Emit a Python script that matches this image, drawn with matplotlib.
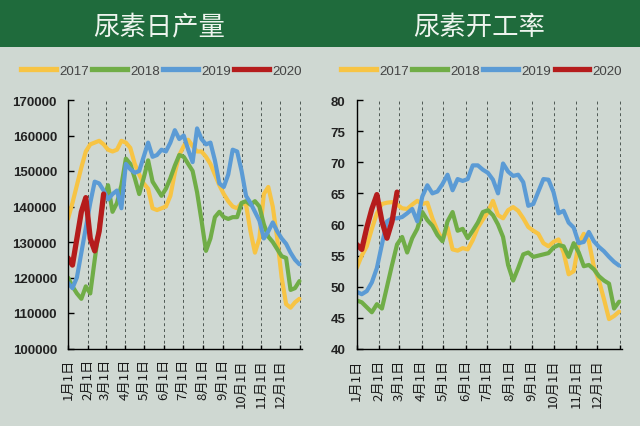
import numpy as np
import matplotlib
matplotlib.use('Agg')
import matplotlib.pyplot as plt
from matplotlib.patches import Rectangle
from matplotlib.lines import Line2D

plt.rcParams['font.family'] = ['Liberation Sans', 'Noto Sans CJK SC', 'DejaVu Sans']

# -----------------------------------------------------------
# 数据 (周度, 自1月1日起每7天一个点)
# -----------------------------------------------------------

years = ['2017', '2018', '2019', '2020']
month_labels = [f'{m}月1日' for m in range(1, 13)]
month_days = [0, 31, 59, 90, 120, 151, 181, 212, 243, 273, 304, 334, 365]

# 尿素日产量 (千吨)
prod_2017 = [136.5, 141, 146, 151, 155.5, 157.5, 158, 158.5, 157.5, 156, 155.5, 156, 158.5,
             158, 156.5, 152, 149, 146.5, 145, 139.5, 139, 139.5, 140, 143, 149.5, 154.5, 157,
             158.8, 157, 155.5, 155.5, 154, 152, 149, 146, 143.5, 141.5, 140, 139.5, 141, 140.5,
             133, 127, 131, 143.5, 145.5, 140, 131, 120, 112.5, 111.5, 113, 114]
prod_2018 = [120, 117.5, 115.5, 114, 117.5, 115.5, 125, 134, 142, 146,
             138.5, 141, 146, 153.5, 152, 148, 143.5, 148, 153, 147,
             145, 143, 145, 148, 151.5, 154.5, 154, 152, 150, 144,
             136, 127.5, 131, 137, 138.5, 137, 136.5, 137, 137, 141,
             141.5, 140.5, 141.5, 140, 135, 131.5, 130, 128, 126, 125.5,
             116.5, 117, 119]
prod_2019 = [118.5, 117, 120, 127, 134, 141, 147, 146.5, 144.5, 142,
             143.5, 144.5, 139.5, 152, 150.5, 149.5, 150, 154, 158, 154,
             154.5, 156, 155.5, 158, 161.5, 159, 160, 156, 152.5, 162,
             159, 157.5, 158, 153, 146.5, 145.5, 149, 156, 155.5, 150,
             143, 141, 138.5, 136, 131, 133, 135.5, 133, 131, 129.5,
             127, 125, 123.7]
prod_2020 = [125.5, 123.5, 131, 138.5, 142.5, 131, 127.5, 133, 143.5]

# 尿素开工率 (%)
rate_2017 = [53, 55, 56.5, 59.3, 61.8, 63.3, 63.5, 63.6, 63.2, 62.6,
             62.5, 63.2, 63.8, 63.3, 63.5, 61, 59, 57.5, 59.5, 56,
             55.8, 56.2, 56, 57.5, 59.5, 60.8, 62, 63.8, 61.5, 61,
             62.3, 62.8, 62.2, 61, 59.6, 59, 58.5, 57, 56.5, 57.2,
             57.6, 55.5, 52, 52.5, 57, 58.5, 57.3, 53.2, 51, 48,
             44.8, 45.3, 46]
rate_2018 = [47.8, 47.5, 46.7, 45.9, 47.2, 46.5, 50, 53.5, 56.8, 58,
             55.5, 57.8, 59.3, 62, 60.7, 59.8, 58.3, 57.3, 60.5, 62,
             59, 59.3, 57.8, 59, 60.3, 62, 62.3, 61.5, 60, 58,
             53.5, 51, 53, 55.2, 55.5, 54.8, 55, 55.2, 55.4, 56.3,
             56.7, 56.5, 54.8, 57, 55.5, 53.3, 53.5, 52.8, 51.7, 51,
             50.5, 46.5, 47.6]
rate_2019 = [49.2, 48.8, 49.3, 50.7, 53, 56.8, 60.5, 61, 61, 61.2,
             61.8, 62.5, 60.5, 64.5, 66.3, 65, 65.3, 66.5, 68, 65.5,
             67.3, 67, 67.3, 69.5, 69.5, 68.8, 68.3, 67.2, 65, 69.8,
             68.5, 67.8, 68, 66.8, 63, 63.3, 65.3, 67.3, 67.2, 65.2,
             61.8, 62.2, 60.3, 59.5, 57, 57.2, 58.8, 57.3, 56.4, 55.7,
             54.8, 54, 53.4]
rate_2020 = [56.8, 56, 59.5, 62.5, 64.8, 60.5, 57.8, 60.5, 65.2]

# -----------------------------------------------------------
# 样式
# -----------------------------------------------------------

BG = '#cfd8d2'
BANNER = '#1f6b3c'
colors = ['#f7c444', '#70ad47', '#5b9bd5', '#b51c1c']
widths = [3.0, 3.0, 3.0, 3.8]
CJK = ['Noto Sans CJK SC', 'DejaVu Sans']


def dibujar(ax, series, ylim, yticks):
    ax.set_facecolor('none')
    for vals, c, lw in zip(series, colors, widths):
        x = np.arange(len(vals)) * 7
        ax.plot(x, vals, color=c, lw=lw, solid_joinstyle='round',
                solid_capstyle='round')

    ax.set_xlim(0, 368)
    ax.set_ylim(*ylim)
    ax.set_yticks(yticks)
    ax.set_xticks(month_days)
    ax.set_xticklabels(month_labels + [''], rotation=90, family=CJK,
                       fontsize=9.5, color='#1a1a1a')
    for lab in ax.get_yticklabels():
        lab.set_fontweight('bold')
        lab.set_fontsize(9.5)
        lab.set_color('#222222')

    ax.spines['top'].set_visible(False)
    ax.spines['right'].set_visible(False)
    ax.spines['left'].set_linewidth(1.0)
    ax.spines['bottom'].set_linewidth(1.0)
    ax.tick_params(axis='y', direction='in', length=4, width=1, pad=8)
    ax.tick_params(axis='x', direction='in', length=3, width=1, pad=7)
    ax.grid(axis='x', linestyle=(0, (3, 3)), color='#4f5954', linewidth=0.7)


fig = plt.figure(figsize=(6.4, 4.27), dpi=100, facecolor=BG)

# 标题栏
fig.add_artist(Rectangle((0, 1 - 48 / 427), 1, 48 / 427, transform=fig.transFigure,
                         facecolor=BANNER, edgecolor='none', zorder=0))
fig.text(159.5 / 640, 1 - 27 / 427, '尿素日产量', ha='center', va='center',
         fontsize=19, color='#eef4ee', family=CJK)
fig.text(479.5 / 640, 1 - 27 / 427, '尿素开工率', ha='center', va='center',
         fontsize=19, color='#eef4ee', family=CJK)

ax1 = fig.add_axes([68 / 640, 1 - 349.5 / 427, 234 / 640, 248.5 / 427])
ax2 = fig.add_axes([356.7 / 640, 1 - 350 / 427, 265.3 / 640, 249 / 427])

dibujar(ax1, [np.array(s) * 1000 for s in [prod_2017, prod_2018, prod_2019, prod_2020]],
        (100000, 170000), range(100000, 170001, 10000))
dibujar(ax2, [rate_2017, rate_2018, rate_2019, rate_2020],
        (40, 80), range(40, 81, 5))

# 图例
handles = [Line2D([], [], color=c, lw=3.8) for c in colors]
for ax, xr in [(ax1, 302), (ax2, 622)]:
    ax.legend(handles, years, loc='center right', ncol=4, frameon=False,
              bbox_to_anchor=(xr / 640, 1 - 71.7 / 427), bbox_transform=fig.transFigure,
              borderpad=0, borderaxespad=0, handlelength=2.6, handletextpad=0.25,
              columnspacing=0.25, prop={'family': 'Liberation Sans', 'size': 9.6},
              labelcolor='#444444')

fig.savefig('out.png', dpi=100, facecolor=BG)
